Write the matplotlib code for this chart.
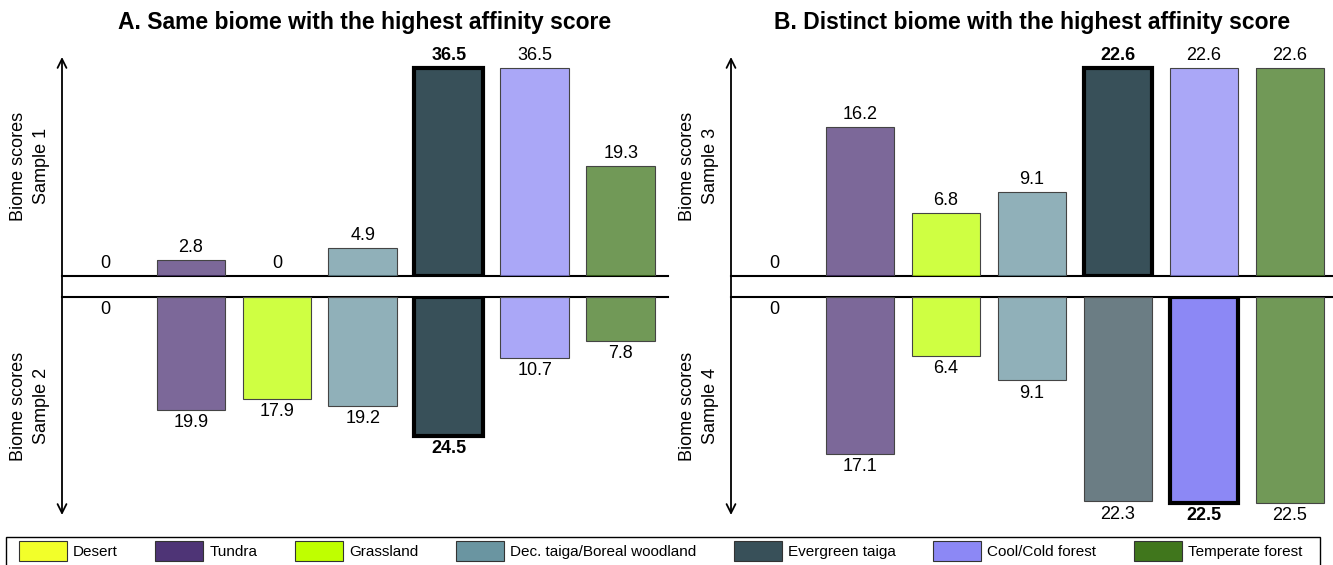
import matplotlib.pyplot as plt
from matplotlib.patches import Patch, Rectangle

plt.rcParams["font.family"] = ["Liberation Sans", "DejaVu Sans"]

# biomes and colours
biomes = ["Desert", "Tundra", "Grassland", "Dec. taiga/Boreal woodland",
          "Evergreen taiga", "Cool/Cold forest", "Temperate forest"]
colors = ["#f2ff2a", "#4e3476", "#bfff00", "#6a95a1",
          "#385059", "#8c88f5", "#40761c"]

# scores per sample
sample1 = [0, 2.8, 0, 4.9, 36.5, 36.5, 19.3]
sample2 = [0, 19.9, 17.9, 19.2, 24.5, 10.7, 7.8]
sample3 = [0, 16.2, 6.8, 9.1, 22.6, 22.6, 22.6]
sample4 = [0, 17.1, 6.4, 9.1, 22.3, 22.5, 22.5]

# index of the highlighted (highest affinity) biome
best1, best2, best3, best4 = 4, 4, 4, 5

titles = ["A. Same biome with the highest affinity score",
          "B. Distinct biome with the highest affinity score"]

W, H = 1333, 565
fig = plt.figure(figsize=(W / 100, H / 100), dpi=100)


def fx(px):
    return px / W


def fy(py):
    return 1 - py / H


panels = [
    (62, 668, sample1, best1, sample2, best2, "Sample 1", "Sample 2"),
    (731, 1333, sample3, best3, sample4, best4, "Sample 3", "Sample 4"),
]

for k, (xl, xr, top, btop, bot, bbot, lab_t, lab_b) in enumerate(panels):
    m = max(max(top), max(bot)) * 1.052
    ax_t = fig.add_axes([fx(xl), fy(276), fx(xr - xl), fy(57) - fy(276)])
    ax_b = fig.add_axes([fx(xl), fy(515), fx(xr - xl), fy(297) - fy(515)])
    for ax, vals, best, sign in [(ax_t, top, btop, 1), (ax_b, bot, bbot, -1)]:
        for i, v in enumerate(vals):
            hl = i == best
            if v > 0:
                ax.bar(i, sign * v, width=0.8, color=colors[i],
                       alpha=1.0 if hl else 0.74, zorder=2, linewidth=0)
                ax.bar(i, sign * v, width=0.8, fill=False,
                       edgecolor="black" if hl else "#444444",
                       linewidth=3 if hl else 0.8, zorder=3)
            ax.annotate(f"{v:g}", (i, sign * v), xytext=(0, 3 * sign),
                        textcoords="offset points", ha="center",
                        va="bottom" if sign > 0 else "top", fontsize=13,
                        fontweight="bold" if hl else "normal")
        ax.set_xlim(-0.5, 6.55 if k == 0 else 6.5)
        if sign > 0:
            ax.set_ylim(0, m)
        else:
            ax.set_ylim(-m, 0)
        ax.set_xticks([])
        ax.set_yticks([])
        for s in ["left", "right", "top", "bottom"]:
            ax.spines[s].set_visible(False)
        edge = "bottom" if sign > 0 else "top"
        ax.spines[edge].set_visible(True)
        ax.spines[edge].set_linewidth(1.5)
        ax.spines[edge].set_zorder(1)
        ax.patch.set_alpha(0)

    # double arrow for the y axis
    fig.add_artist(plt.Annotation("", xy=(fx(xl), fy(57)), xytext=(fx(xl), fy(515)),
                                  xycoords="figure fraction", textcoords="figure fraction",
                                  arrowprops=dict(arrowstyle="<->", lw=1.3,
                                                  mutation_scale=16, color="black",
                                                  shrinkA=0, shrinkB=0)))
    for yc, lab in [(166, lab_t), (406, lab_b)]:
        fig.text(fx(xl - 32), fy(yc), "Biome scores\n" + lab, rotation=90,
                 ha="center", va="center", fontsize=13, multialignment="center",
                 linespacing=1.4)
    fig.text(fx((xl + xr) / 2), fy(22), titles[k], ha="center", va="center",
             fontsize=16.5, fontweight="bold")

# legend frame drawn separately so the entries can be inset
fig.add_artist(Rectangle((fx(6), fy(575)), fx(1314), fy(537) - fy(575),
                         transform=fig.transFigure, fill=False,
                         edgecolor="black", linewidth=1))
handles = [Patch(facecolor=c, edgecolor="#333333", linewidth=0.8) for c in colors]
leg = fig.legend(handles, biomes, loc="upper left", ncol=7, mode="expand",
                 bbox_to_anchor=(fx(19), fy(541) - 0.1, fx(1283), 0.1),
                 borderaxespad=0, borderpad=0, fontsize=11, handlelength=3.14,
                 handleheight=1.65, handletextpad=0.4, frameon=False)

plt.savefig("out.png", dpi=100)
plt.close()
